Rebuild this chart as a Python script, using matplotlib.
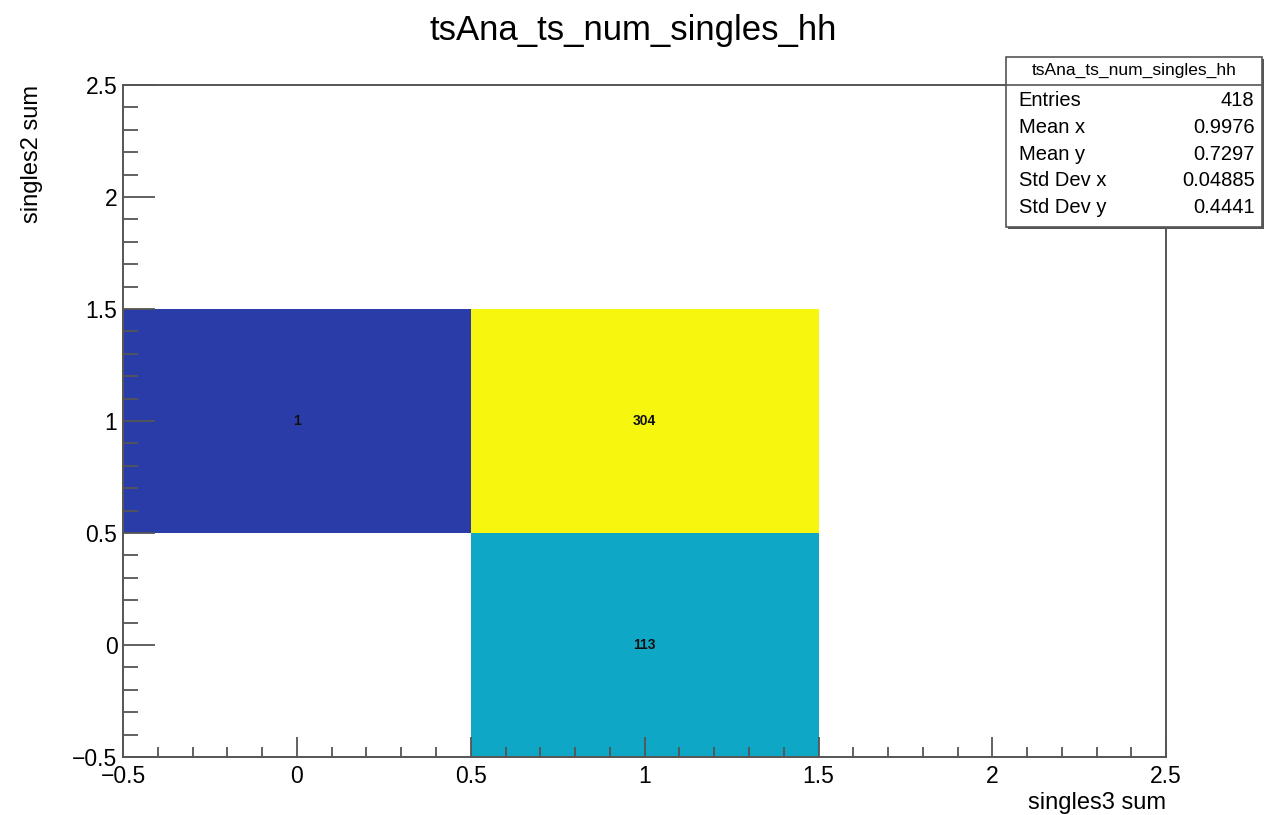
import numpy as np
import matplotlib.pyplot as plt
from matplotlib.colors import LinearSegmentedColormap, Normalize
from matplotlib.ticker import MultipleLocator, FuncFormatter

plt.rcParams['font.family'] = ['Liberation Sans', 'DejaVu Sans']

# histogram content: rows = singles2 sum bins, cols = singles3 sum bins
x_edges = [-0.5, 0.5, 1.5, 2.5]
y_edges = [-0.5, 0.5, 1.5, 2.5]
counts = np.array([
    [0, 113, 0],
    [1, 304, 0],
    [0, 0, 0],
])

hist_name = "tsAna_ts_num_singles_hh"
stat_labels = ["Entries", "Mean x", "Mean y", "Std Dev x", "Std Dev y"]
stat_values = ["418", "0.9976", "0.7297", "0.04885", "0.4441"]

# palette close to ROOT kBird as it shows up here
cmap = LinearSegmentedColormap.from_list(
    "bird", [(0.0, "#2a3ca8"), (0.37, "#0ea7c5"), (1.0, "#f6f60e")])

fig = plt.figure(figsize=(12.66, 8.15), dpi=100)
ax = fig.add_axes([0.0972, 0.0712, 0.8240, 0.8245])

masked = np.ma.masked_equal(counts, 0)
ax.pcolormesh(x_edges, y_edges, masked, cmap=cmap,
              norm=Normalize(vmin=1, vmax=counts.max()))

xc = 0.5 * (np.array(x_edges[:-1]) + np.array(x_edges[1:]))
yc = 0.5 * (np.array(y_edges[:-1]) + np.array(y_edges[1:]))
for j in range(counts.shape[0]):
    for i in range(counts.shape[1]):
        if counts[j, i] > 0:
            ax.text(xc[i], yc[j], str(counts[j, i]), ha='center', va='center',
                    fontsize=10, fontweight='bold', color='#111111')

ax.set_xlim(x_edges[0], x_edges[-1])
ax.set_ylim(y_edges[0], y_edges[-1])

fmt = FuncFormatter(lambda v, p: ("%g" % v).replace("-", "\u2212"))
ax.xaxis.set_major_locator(MultipleLocator(0.5))
ax.xaxis.set_minor_locator(MultipleLocator(0.1))
ax.yaxis.set_major_locator(MultipleLocator(0.5))
ax.yaxis.set_minor_locator(MultipleLocator(0.1))
ax.xaxis.set_major_formatter(fmt)
ax.yaxis.set_major_formatter(fmt)
ax.tick_params(axis='x', which='major', direction='in', length=14.5, width=1.3,
               color='#555555', labelsize=16.5, pad=6, top=False)
ax.tick_params(axis='x', which='minor', direction='in', length=7.2, width=1.3,
               color='#555555', top=False)
ax.tick_params(axis='y', which='major', direction='in', length=23, width=1.3,
               color='#555555', labelsize=16.5, pad=4, right=False)
ax.tick_params(axis='y', which='minor', direction='in', length=11, width=1.3,
               color='#555555', right=False)
for sp in ax.spines.values():
    sp.set_color('#555555')
    sp.set_linewidth(1.4)

ax.set_xlabel("singles3 sum", fontsize=17, loc='right', labelpad=3)
ax.set_ylabel("singles2 sum", fontsize=17, loc='top')
ax.yaxis.set_label_coords(-0.077, 1.0)

fig.text(0.5, 0.962, hist_name, ha='center', va='center', fontsize=25)

# stats box
bx0, bx1, by0, by1 = 0.7946, 0.997, 0.721, 0.930
shadow = plt.Rectangle((bx0 + 0.0016, by0 - 0.0025), bx1 - bx0, by1 - by0,
                       transform=fig.transFigure, facecolor='#555555',
                       edgecolor='none', zorder=5)
box = plt.Rectangle((bx0, by0), bx1 - bx0, by1 - by0, transform=fig.transFigure,
                    facecolor='white', edgecolor='#555555', linewidth=1.2, zorder=6)
fig.add_artist(shadow)
fig.add_artist(box)
row_h = (by1 - by0) / 6.4
head_bottom = by1 - 1.05 * row_h
fig.add_artist(plt.Line2D([bx0, bx1], [head_bottom, head_bottom],
                          transform=fig.transFigure, color='#555555', lw=1.2, zorder=7))
fig.text(0.5 * (bx0 + bx1), by1 - 0.52 * row_h, hist_name, ha='center', va='center',
         fontsize=12.5, zorder=8)
for k, (lab, val) in enumerate(zip(stat_labels, stat_values)):
    yy = head_bottom - (k + 0.6) * row_h
    fig.text(bx0 + 0.010, yy, lab, ha='left', va='center', fontsize=14.5, zorder=8)
    fig.text(bx1 - 0.006, yy, val, ha='right', va='center', fontsize=14.5, zorder=8)

fig.savefig("out.png", dpi=100)
